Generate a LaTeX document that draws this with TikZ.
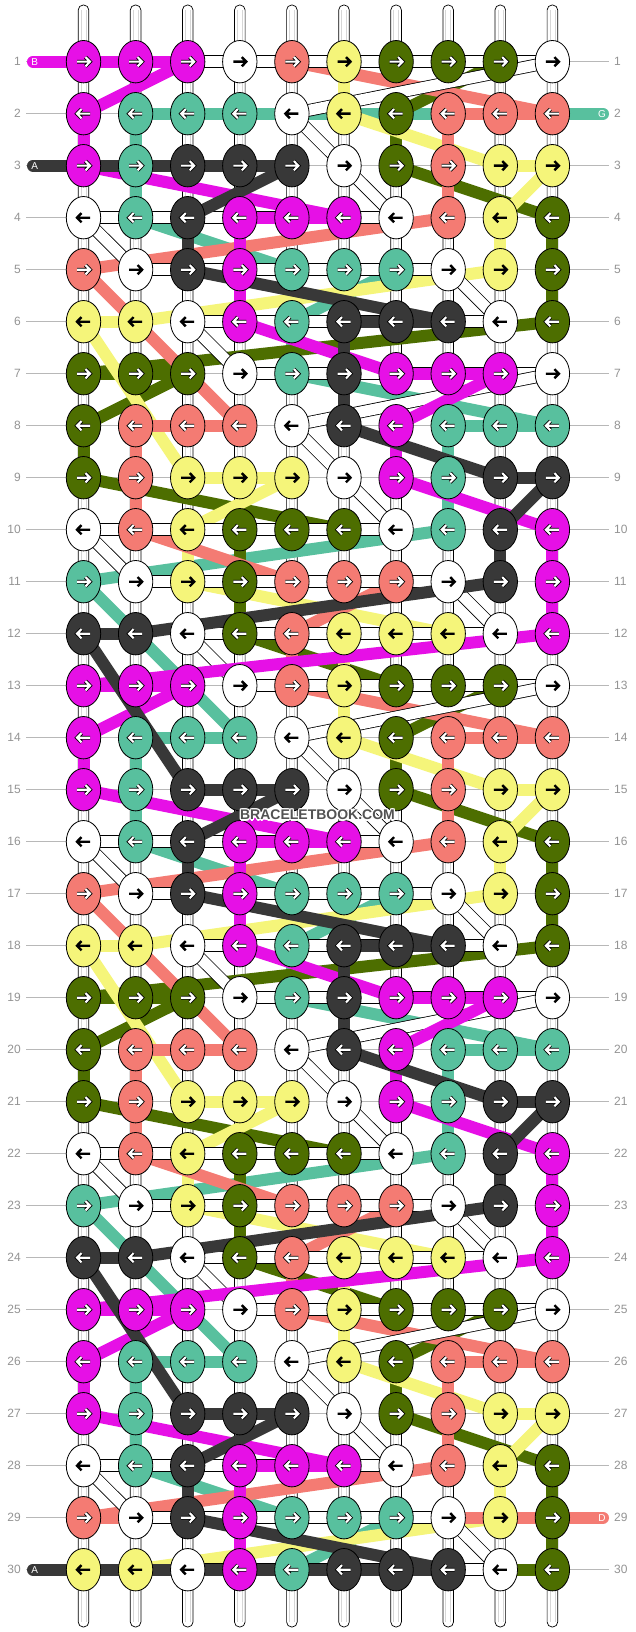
\documentclass[tikz,border=0pt]{standalone}
\usepackage{fontspec}
\setmainfont{Liberation Sans}
\usetikzlibrary{shapes.geometric}
\pgfdeclarelayer{guide}\pgfdeclarelayer{pipes}\pgfdeclarelayer{strands}
\pgfsetlayers{guide,pipes,strands,main}
\definecolor{cP}{HTML}{E610E6}
\definecolor{cT}{HTML}{58C09E}
\definecolor{cD}{HTML}{383838}
\definecolor{cS}{HTML}{F47B73}
\definecolor{cY}{HTML}{F5F57A}
\definecolor{cG}{HTML}{4D6E00}
\definecolor{cW}{HTML}{FFFFFF}
\expandafter\def\csname pat1\endcsname{P,P,P,W,S,Y,G,G,G,W}
\expandafter\def\csname pat2\endcsname{P,T,T,T,W,Y,G,S,S,S}
\expandafter\def\csname pat3\endcsname{P,T,D,D,D,W,G,S,Y,Y}
\expandafter\def\csname pat4\endcsname{W,T,D,P,P,P,W,S,Y,G}
\expandafter\def\csname pat5\endcsname{S,W,D,P,T,T,T,W,Y,G}
\expandafter\def\csname pat6\endcsname{Y,Y,W,P,T,D,D,D,W,G}
\expandafter\def\csname pat7\endcsname{G,G,G,W,T,D,P,P,P,W}
\expandafter\def\csname pat8\endcsname{G,S,S,S,W,D,P,T,T,T}
\expandafter\def\csname pat9\endcsname{G,S,Y,Y,Y,W,P,T,D,D}
\expandafter\def\csname pat10\endcsname{W,S,Y,G,G,G,W,T,D,P}
\expandafter\def\csname pat11\endcsname{T,W,Y,G,S,S,S,W,D,P}
\expandafter\def\csname pat12\endcsname{D,D,W,G,S,Y,Y,Y,W,P}
\def\lW{W}\def\lY{Y}
\newcommand\strd[5]{\foreach \oo in {0,12,24}{%
  \pgfmathtruncatemacro\ra{#2+\oo}\pgfmathtruncatemacro\rb{#4+\oo}%
  \ifnum\rb<31 \draw[st-#1] (k-\ra-#3.center) -- (k-\rb-#5.center);\fi}}
\tikzset{
 kn/.style={ellipse, draw=black, line width=0.8pt, minimum width=34.4pt, minimum height=42.4pt, inner sep=0pt},
 st-P/.style={draw=cP, line width=12pt},
 st-T/.style={draw=cT, line width=12pt},
 st-D/.style={draw=cD, line width=12pt},
 st-S/.style={draw=cS, line width=12pt},
 st-Y/.style={draw=cY, line width=12pt},
 st-G/.style={draw=cG, line width=12pt},
 st-W/.style={draw=black, line width=0.8pt, double=white, double distance=11pt},
 barrow/.style={draw=black, line width=2.4pt},
 warrow/.style={draw=black, line width=0.85pt, double=white, double distance=2.1pt},
 guideline/.style={draw=black!28, line width=0.9pt},
 rownum/.style={text=black!42, font=\fontsize{12}{12}\selectfont, inner sep=0pt},
 pilltxt/.style={text=white, font=\fontsize{10}{10}\selectfont, inner sep=0pt},
 wm/.style={font=\fontsize{14}{14}\selectfont\bfseries, inner sep=0pt},
}
\begin{document}
\begin{tikzpicture}[x=1pt,y=-1pt]
\useasboundingbox (0,0) rectangle (636,1632);
\begin{pgfonlayer}{guide}
 \fill[white] (0,0) rectangle (636,1632);
 \foreach \rr in {1,...,30} {
   \pgfmathsetmacro\yy{61.7+52*(\rr-1)}
   \draw[guideline] (26,\yy) -- (609,\yy);
   \node[rownum, anchor=east] (ln-\rr) at (21,\yy) {\rr};
   \node[rownum, anchor=west] (rn-\rr) at (614,\yy) {\rr};
 }
\end{pgfonlayer}
\begin{pgfonlayer}{pipes}
 \foreach \cN in {1,...,10} {
   \pgfmathsetmacro\xx{83.5+52.1*(\cN-1)}
   \draw[fill=white, line width=0.7pt, rounded corners=5pt] (\xx-5.3,5) rectangle (\xx+5.3,1627);
   \draw[black!16, line width=0.6pt] (\xx-2.5,10) -- (\xx-2.5,1622) (\xx+2.5,10) -- (\xx+2.5,1622);
 }
\end{pgfonlayer}
% knots
\foreach \rr in {1,...,30} {
 \pgfmathtruncatemacro\pp{mod(\rr-1,12)+1}
 \pgfmathsetmacro\dir{ifthenelse(mod(\rr,2)==1,1,-1)}
 \edef\lst{\csname pat\pp\endcsname}
 \foreach \cc [count=\cN] in \lst {
   \node[kn, fill=c\cc] (k-\rr-\cN) at ({83.5+52.1*(\cN-1)},{61.7+52*(\rr-1)}) {};
   \ifx\cc\lW \def\ak{barrow}\else\ifx\cc\lY \def\ak{barrow}\else\def\ak{warrow}\fi\fi
   \begin{scope}[shift={(k-\rr-\cN.center)}, xscale=\dir]
     \path[\ak] (-6.5,0)--(6.5,0) (2,-4.6)--(6.5,0)--(2,4.6);
   \end{scope}
 }
}
\begin{pgfonlayer}{strands}
% teal
\draw[st-T, line cap=round] (k-2-2.center) -- (603,113.7);
\strd{T}{2}{2}{2}{4}
\strd{T}{5}{5}{5}{7}
\strd{T}{8}{8}{8}{10}
\strd{T}{2}{2}{3}{2}
\strd{T}{3}{2}{4}{2}
\strd{T}{4}{2}{5}{5}
\strd{T}{5}{7}{6}{5}
\strd{T}{6}{5}{7}{5}
\strd{T}{7}{5}{8}{10}
\strd{T}{8}{8}{9}{8}
\strd{T}{9}{8}{10}{8}
\strd{T}{10}{8}{11}{1}
\strd{T}{11}{1}{14}{4}
% green
\strd{G}{1}{7}{1}{9}
\strd{G}{7}{1}{7}{3}
\strd{G}{10}{4}{10}{6}
\strd{G}{1}{9}{2}{7}
\strd{G}{2}{7}{3}{7}
\strd{G}{3}{7}{4}{10}
\strd{G}{4}{10}{5}{10}
\strd{G}{5}{10}{6}{10}
\strd{G}{6}{10}{7}{1}
\strd{G}{7}{3}{8}{1}
\strd{G}{8}{1}{9}{1}
\strd{G}{9}{1}{10}{6}
\strd{G}{10}{4}{11}{4}
\strd{G}{11}{4}{12}{4}
\strd{G}{12}{4}{13}{7}
\draw[st-G] (k-30-10.center) -- (k-30-9.center);
% yellow
\strd{Y}{3}{9}{3}{10}
\strd{Y}{6}{1}{6}{2}
\strd{Y}{9}{3}{9}{5}
\strd{Y}{12}{6}{12}{8}
\strd{Y}{1}{6}{2}{6}
\strd{Y}{2}{6}{3}{9}
\strd{Y}{3}{10}{4}{9}
\strd{Y}{4}{9}{5}{9}
\strd{Y}{5}{9}{6}{2}
\strd{Y}{6}{1}{9}{3}
\strd{Y}{9}{5}{10}{3}
\strd{Y}{10}{3}{11}{3}
\strd{Y}{11}{3}{12}{8}
\strd{Y}{12}{6}{13}{6}
% salmon
\strd{S}{2}{8}{2}{10}
\strd{S}{8}{2}{8}{4}
\strd{S}{11}{5}{11}{7}
\strd{S}{1}{5}{2}{10}
\strd{S}{2}{8}{3}{8}
\strd{S}{3}{8}{4}{8}
\strd{S}{4}{8}{5}{1}
\strd{S}{5}{1}{8}{4}
\strd{S}{8}{2}{9}{2}
\strd{S}{9}{2}{10}{2}
\strd{S}{10}{2}{11}{5}
\strd{S}{11}{7}{12}{5}
\strd{S}{12}{5}{13}{5}
\draw[st-S, line cap=round] (k-29-1.center) -- (603,1517.7);
% white
\draw[st-W] (k-1-3.center) -- (k-1-4.center);
\strd{W}{1}{4}{1}{10}
\strd{W}{4}{1}{4}{7}
\strd{W}{5}{2}{5}{8}
\strd{W}{6}{3}{6}{9}
\strd{W}{7}{4}{7}{10}
\strd{W}{10}{1}{10}{7}
\strd{W}{11}{2}{11}{8}
\strd{W}{12}{3}{12}{9}
\strd{W}{1}{10}{2}{5}
\strd{W}{2}{5}{3}{6}
\strd{W}{3}{6}{4}{7}
\strd{W}{4}{1}{5}{2}
\strd{W}{5}{8}{6}{9}
\strd{W}{6}{3}{7}{4}
\strd{W}{7}{10}{8}{5}
\strd{W}{8}{5}{9}{6}
\strd{W}{9}{6}{10}{7}
\strd{W}{10}{1}{11}{2}
\strd{W}{11}{8}{12}{9}
\strd{W}{12}{3}{13}{4}
% pink
\draw[st-P, line cap=round] (33,61.7) -- (k-1-3.center);
\strd{P}{1}{1}{1}{3}
\strd{P}{4}{4}{4}{6}
\strd{P}{7}{7}{7}{9}
\strd{P}{1}{3}{2}{1}
\strd{P}{2}{1}{3}{1}
\strd{P}{3}{1}{4}{6}
\strd{P}{4}{4}{5}{4}
\strd{P}{5}{4}{6}{4}
\strd{P}{6}{4}{7}{7}
\strd{P}{7}{9}{8}{7}
\strd{P}{8}{7}{9}{7}
\strd{P}{9}{7}{10}{10}
\strd{P}{10}{10}{11}{10}
\strd{P}{11}{10}{12}{10}
\strd{P}{12}{10}{13}{1}
% dark
\draw[st-D, line cap=round] (33,165.7) -- (k-3-5.center);
\draw[st-D, line cap=round] (33,1569.7) -- (k-30-8.center);
\strd{D}{3}{3}{3}{5}
\strd{D}{6}{6}{6}{8}
\strd{D}{9}{9}{9}{10}
\strd{D}{12}{1}{12}{2}
\strd{D}{3}{5}{4}{3}
\strd{D}{4}{3}{5}{3}
\strd{D}{5}{3}{6}{8}
\strd{D}{6}{6}{7}{6}
\strd{D}{7}{6}{8}{6}
\strd{D}{8}{6}{9}{9}
\strd{D}{9}{10}{10}{9}
\strd{D}{10}{9}{11}{9}
\strd{D}{11}{9}{12}{2}
\strd{D}{12}{1}{15}{3}
\end{pgfonlayer}
% pill labels
\node[pilltxt] (lb-B) at (34.6,61.7) {B};
\node[pilltxt] (lb-G) at (602,113.7) {G};
\node[pilltxt] (lb-A1) at (34.6,165.7) {A};
\node[pilltxt] (lb-D) at (602,1517.7) {D};
\node[pilltxt] (lb-A2) at (34.6,1569.7) {A};
% watermark
\foreach \dx/\dy in {-1.2/0,1.2/0,0/-1.2,0/1.2,-0.9/-0.9,0.9/0.9,-0.9/0.9,0.9/-0.9}
  \node[wm, text=white] at (317.5+\dx,815+\dy) {BRACELETBOOK.COM};
\node[wm, text=black!68] (wm) at (317.5,815) {BRACELETBOOK.COM};
\end{tikzpicture}
\end{document}
